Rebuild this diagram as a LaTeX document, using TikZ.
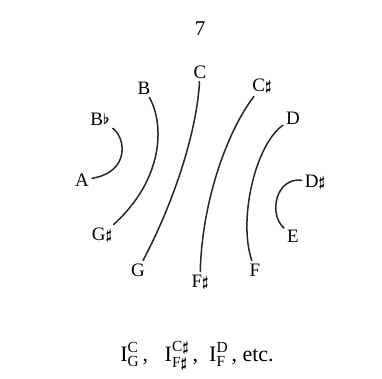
\documentclass[tikz,border=0pt]{standalone}
\usepackage{amsmath}
\usepackage{fontspec}
\setmainfont{Liberation Serif}
\newcommand{\shp}{\raisebox{0.1ex}{\fontsize{15}{15}\selectfont$\boldsymbol{\sharp}$}}
\newcommand{\flt}{\raisebox{0.1ex}{\fontsize{14}{14}\selectfont$\boldsymbol{\flat}$}}
\begin{document}
\begin{tikzpicture}[x=1pt,y=-1pt,
  lbl/.style={font=\fontsize{19}{22}\selectfont, inner sep=3pt},
  arcline/.style={line width=1.5pt, line cap=round, draw=black!85}]
\useasboundingbox (0,0) rectangle (382,379);
\node[font=\fontsize{21}{24}\selectfont] (num) at (200,29) {7};
\node[lbl] (C)  at (200,72) {C};
\node[lbl] (B)  at (144,88) {B};
\node[lbl] (Cs) at (262,86) {C\shp};
\node[lbl] (Bb) at (100,119) {B\flt};
\node[lbl] (D)  at (293,118) {D};
\node[lbl] (A)  at (82,180) {A};
\node[lbl] (Ds) at (315,182) {D\shp};
\node[lbl] (Gs) at (102,235) {G\shp};
\node[lbl] (E)  at (293,236) {E};
\node[lbl] (G)  at (138,270) {G};
\node[lbl] (Fs) at (200,282) {F\shp};
\node[lbl] (F)  at (255,270) {F};
\node[font=\fontsize{22}{26}\selectfont, anchor=base] (cap) at (197,361)
  {$\text{I}^{\text{C}}_{\text{G}}\,$,\ \ \ $\text{I}^{\text{C}\boldsymbol{\sharp}}_{\text{F}\boldsymbol{\sharp}}\,$,\ \ $\text{I}^{\text{D}}_{\text{F}}\,$,\ etc.};
\draw[arcline] (Bb) .. controls (126,138) and (130,172) .. (A);
\draw[arcline] (B) .. controls (165,125) and (163,180) .. (Gs);
\draw[arcline] (C) .. controls (197,130) and (175,200) .. (G);
\draw[arcline] (Cs) .. controls (228,130) and (202,200) .. (Fs);
\draw[arcline] (D) .. controls (255,145) and (238,220) .. (F);
\draw[arcline] (Ds) .. controls (276,177) and (268,214) .. (E);
\end{tikzpicture}
\end{document}
